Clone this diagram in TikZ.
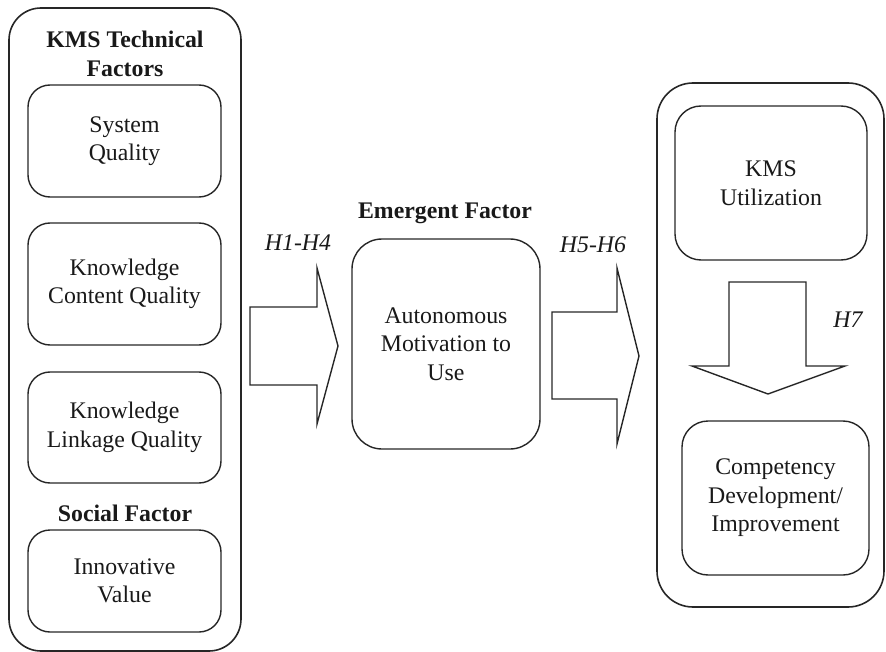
\documentclass[tikz,border=0pt]{standalone}
\usepackage{fontspec}
\setmainfont{Liberation Serif}
\usepackage{tikz}
\usetikzlibrary{positioning}

\begin{document}
\begin{tikzpicture}[
    x=1pt, y=-1pt,
    txt/.style={font=\fontsize{23.8}{28.5}\selectfont, text=black!90},
    outerbox/.style={draw=black!85, rounded corners=32pt, line width=1.6pt},
    factor/.style={txt, draw=black!85, rounded corners=22pt, line width=1.4pt, align=center, inner sep=0pt},
    heading/.style={font=\fontsize{23.8}{28.5}\selectfont\bfseries, text=black!90, align=center},
    hyp/.style={font=\fontsize{23.8}{28.5}\selectfont\itshape, text=black!90},
    blockarr/.style={draw=black!85, line width=1.4pt, line join=miter},
]
\useasboundingbox (0,0) rectangle (886,652);

\node[outerbox, minimum width=232pt, minimum height=643pt] (tech) at (125,329.5) {};
\node[heading] (techhead) at (125,54) {KMS Technical\\Factors};
\node[factor, minimum width=193pt, minimum height=112pt] (sysq) at (124.5,141) {System\\Quality};
\node[factor, minimum width=193pt, minimum height=122pt] (contq) at (124.5,284) {Knowledge\\Content Quality};
\node[factor, minimum width=193pt, minimum height=111pt] (linkq) at (124.5,427.5) {Knowledge\\Linkage Quality};
\node[heading] (sochead) at (125,513) {Social Factor};
\node[factor, minimum width=193pt, minimum height=102pt] (innov) at (124.5,581) {Innovative\\Value};

\node[heading] (emhead) at (445,213) {Emergent Factor};
\node[factor, rounded corners=30pt, minimum width=188pt, minimum height=210pt] (motiv) at (446,344) {Autonomous\\Motivation to\\Use};

\node[outerbox, rounded corners=36pt, minimum width=227pt, minimum height=524pt] (outcome) at (770.5,345) {};
\node[factor, rounded corners=26pt, minimum width=192pt, minimum height=154pt] (util) at (771,183) {KMS\\Utilization};
\node[factor, rounded corners=26pt, minimum width=187pt, minimum height=154pt] (comp) at (775.5,498) {Competency\\Development/\\Improvement};

\draw[blockarr] (250,307) -- (317,307) -- (317,268) -- (338,346) -- (317,424) -- (317,385) -- (250,385) -- cycle;
\node[hyp] (h14) at (298,243) {H1-H4};

\draw[blockarr] (552,312) -- (617,312) -- (617,268) -- (639,356) -- (617,444) -- (617,399) -- (552,399) -- cycle;
\node[hyp] (h56) at (593,245) {H5-H6};

\draw[blockarr] (729,282) -- (806,282) -- (806,366) -- (845,366) -- (768,394) -- (692,366) -- (729,366) -- cycle;
\node[hyp] (h7) at (848,320) {H7};
\end{tikzpicture}
\end{document}
